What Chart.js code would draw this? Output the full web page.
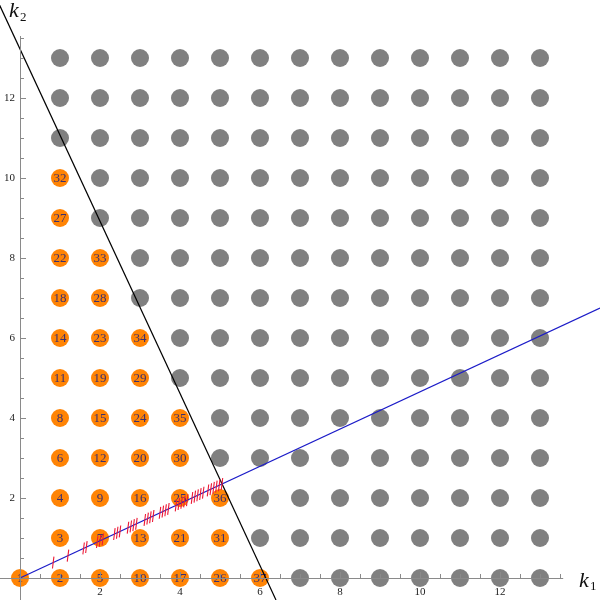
<!DOCTYPE html>
<html>
<head>
<meta charset="utf-8">
<script src="https://cdn.jsdelivr.net/npm/chart.js@4/dist/chart.umd.min.js"></script>
<style>
  html, body { margin: 0; padding: 0; background: #ffffff; }
  #wrap { width: 600px; height: 600px; }
</style>
</head>
<body>
<div id="wrap"><canvas id="latticeChart" width="600" height="600"></canvas></div>
<script>
// ordered states (k1, k2, index) shown in orange
const stateK1 = [0, 1, 1, 1, 2, 1, 2, 1, 2, 3, 1, 2, 3, 1, 2, 3, 4, 1, 2, 3, 4, 1, 2, 3, 4, 5, 1, 2, 3, 4, 5, 1, 2, 3, 4, 5, 6];
const stateK2 = [0, 0, 1, 2, 0, 3, 1, 4, 2, 0, 5, 3, 1, 6, 4, 2, 0, 7, 5, 3, 1, 8, 6, 4, 2, 0, 9, 7, 5, 3, 1, 10, 8, 6, 4, 2, 0];
const stateN  = [1, 2, 3, 4, 5, 6, 7, 8, 9, 10, 11, 12, 13, 14, 15, 16, 17, 18, 19, 20, 21, 22, 23, 24, 25, 26, 27, 28, 29, 30, 31, 32, 33, 34, 35, 36, 37];

// lattice shown in gray (every site not in the list above)
const latticeK1 = [1, 2, 3, 4, 5, 6, 7, 8, 9, 10, 11, 12, 13];
const latticeK2 = [0, 1, 2, 3, 4, 5, 6, 7, 8, 9, 10, 11, 12, 13];

// straight lines (end points)
const cutLine  = [[-0.57, 14.45], [6.4, -0.55]];
const rayLine  = [[0, 0], [14.5, 6.75]];

// red marks along the ray
const markK1 = [0.83, 1.20, 1.59, 1.66, 1.93, 2.00, 2.07, 2.36, 2.43, 2.50,
                2.70, 2.77, 2.84, 2.91, 3.12, 3.19, 3.26, 3.33, 3.50, 3.57, 3.64, 3.71,
                3.90, 3.97, 4.04, 4.11, 4.18, 4.30, 4.37, 4.44, 4.51, 4.58,
                4.70, 4.77, 4.84, 4.91, 4.98, 5.05];
const markK2 = [0.386, 0.559, 0.740, 0.773, 0.898, 0.931, 0.964, 1.099, 1.131, 1.164,
                1.257, 1.289, 1.322, 1.355, 1.452, 1.485, 1.518, 1.550, 1.629, 1.662, 1.694, 1.727,
                1.815, 1.848, 1.881, 1.913, 1.946, 2.002, 2.034, 2.067, 2.099, 2.132,
                2.188, 2.220, 2.253, 2.286, 2.318, 2.351];

// axis ticks
const xTickLabels = [2, 4, 6, 8, 10, 12];
const yTickLabels = [2, 4, 6, 8, 10, 12];

const orangePts = stateK1.map((k1, i) => ({ x: k1, y: stateK2[i], n: stateN[i] }));
const taken = new Set(orangePts.map(p => p.x + ',' + p.y));
const grayPts = [];
latticeK1.forEach(k1 => latticeK2.forEach(k2 => {
  if (!taken.has(k1 + ',' + k2)) grayPts.push({ x: k1, y: k2 });
}));
const markPts = markK1.map((k1, i) => ({ x: k1, y: markK2[i] }));

const labelPlugin = {
  id: 'stateLabels',
  afterDatasetDraw(chart, args) {
    if (args.index !== 1) return;
    const ctx = chart.ctx;
    const meta = chart.getDatasetMeta(1);
    ctx.save();
    ctx.font = '13px "Liberation Serif", "DejaVu Serif", serif';
    ctx.fillStyle = '#3c2f6e';
    ctx.textAlign = 'center';
    ctx.textBaseline = 'middle';
    meta.data.forEach((el, i) => {
      ctx.fillText(String(orangePts[i].n), el.x, el.y + 1);
    });
    ctx.restore();
  }
};

const axesPlugin = {
  id: 'mathAxes',
  afterDatasetsDraw(chart) {
    const ctx = chart.ctx;
    const xs = chart.scales.x, ys = chart.scales.y;
    const x0 = xs.getPixelForValue(0), y0 = ys.getPixelForValue(0);
    ctx.save();
    ctx.strokeStyle = '#8a8a8a';
    ctx.lineWidth = 1;
    ctx.beginPath();
    ctx.moveTo(xs.getPixelForValue(-0.5), y0 + 0.5);
    ctx.lineTo(xs.getPixelForValue(13.58), y0 + 0.5);
    ctx.moveTo(x0 + 0.5, ys.getPixelForValue(-0.55));
    ctx.lineTo(x0 + 0.5, ys.getPixelForValue(13.55));
    for (let v = 0.5; v <= 13.5; v += 0.5) {
      const major = v % 2 === 0;
      const len = major ? 6 : 4;
      const px = Math.round(xs.getPixelForValue(v)) + 0.5;
      ctx.moveTo(px, y0);
      ctx.lineTo(px, y0 - len);
      const py = Math.round(ys.getPixelForValue(v)) + 0.5;
      ctx.moveTo(x0, py);
      ctx.lineTo(x0 + len, py);
    }
    ctx.stroke();

    ctx.fillStyle = '#222222';
    ctx.font = '11px "Liberation Serif", "DejaVu Serif", serif';
    ctx.textAlign = 'center';
    ctx.textBaseline = 'middle';
    xTickLabels.forEach(v => ctx.fillText(String(v), xs.getPixelForValue(v), y0 + 14));
    ctx.textAlign = 'right';
    yTickLabels.forEach(v => ctx.fillText(String(v), x0 - 5, ys.getPixelForValue(v)));

    // axis titles
    ctx.textAlign = 'left';
    ctx.textBaseline = 'alphabetic';
    ctx.fillStyle = '#111111';
    ctx.font = 'italic 22px "Liberation Serif", "DejaVu Serif", serif';
    ctx.fillText('k', 579, 587);
    ctx.fillText('k', 9, 17);
    ctx.font = '13px "Liberation Serif", "DejaVu Serif", serif';
    ctx.fillText('1', 590, 590);
    ctx.fillText('2', 20, 21);
    ctx.restore();
  }
};

const ctx = document.getElementById('latticeChart').getContext('2d');
new Chart(ctx, {
  type: 'scatter',
  data: {
    datasets: [
      {
        label: 'marks',
        data: markPts,
        pointStyle: 'line',
        pointRadius: 6,
        rotation: 97,
        borderColor: '#ec1836',
        borderWidth: 1.1,
        order: 0
      },
      {
        label: 'states',
        data: orangePts,
        pointRadius: 9,
        backgroundColor: '#ff8405',
        borderWidth: 0,
        order: 3
      },
      {
        label: 'lattice',
        data: grayPts,
        pointRadius: 9,
        backgroundColor: '#808080',
        borderWidth: 0,
        order: 4
      },
      {
        label: 'cut',
        type: 'line',
        data: cutLine.map(p => ({ x: p[0], y: p[1] })),
        borderColor: '#000000',
        borderWidth: 1.2,
        pointRadius: 0,
        fill: false,
        order: 2
      },
      {
        label: 'ray',
        type: 'line',
        data: rayLine.map(p => ({ x: p[0], y: p[1] })),
        borderColor: '#1c1cc8',
        borderWidth: 1.2,
        pointRadius: 0,
        fill: false,
        order: 1
      }
    ]
  },
  options: {
    responsive: false,
    animation: false,
    layout: { padding: 0, autoPadding: false },
    plugins: {
      legend: { display: false },
      tooltip: { enabled: false }
    },
    scales: {
      x: { type: 'linear', min: -0.5, max: 14.5, display: false },
      y: { type: 'linear', min: -0.55, max: 14.45, display: false }
    }
  },
  plugins: [labelPlugin, axesPlugin]
});
</script>
</body>
</html>
